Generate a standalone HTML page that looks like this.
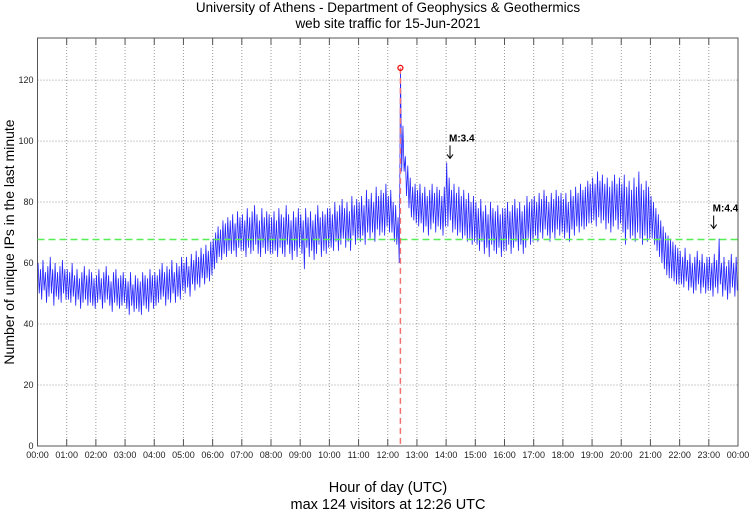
<!DOCTYPE html>
<html><head><meta charset="utf-8"><style>
body{margin:0;background:#fff;}
svg{display:block;font-family:"Liberation Sans",sans-serif;}
</style></head><body>
<svg id="c" width="750" height="511" viewBox="0 0 750 511">
<text x="388" y="12" text-anchor="middle" font-size="13.5">University of Athens - Department of Geophysics &amp; Geothermics</text>
<text x="388" y="28" text-anchor="middle" font-size="13.5">web site traffic for 15-Jun-2021</text>
<text transform="translate(14,242) rotate(-90)" text-anchor="middle" font-size="14">Number of unique IPs in the last minute</text>
<text x="388" y="492" text-anchor="middle" font-size="14.5">Hour of day (UTC)</text>
<text x="388" y="509" text-anchor="middle" font-size="14.5">max 124 visitors at 12:26 UTC</text>
<g id="grid"></g><g id="series"></g><g id="marks"></g>
</svg>
<script>
const yTicks=[0,20,40,60,80,100,120];
const xTickLabels=["00:00","01:00","02:00","03:00","04:00","05:00","06:00","07:00","08:00","09:00","10:00","11:00","12:00","13:00","14:00","15:00","16:00","17:00","18:00","19:00","20:00","21:00","22:00","23:00","00:00"];
const hiVals=[60,58,61,57,59,62,58,60,57,59,61,58,
58,57,60,56,58,55,57,59,56,58,57,55,
56,58,55,57,59,56,54,57,58,55,56,57,
55,54,57,53,56,55,54,57,56,55,58,56,
57,56,58,60,57,59,58,61,57,60,59,62,
60,62,59,63,61,64,62,65,63,66,64,67,
68,70,72,71,74,73,75,74,76,73,77,75,
76,74,78,75,77,79,76,74,78,75,77,76,
75,77,74,78,76,75,79,76,74,77,75,78,
76,74,78,75,77,74,76,79,75,77,76,78,
78,76,80,77,79,81,78,80,77,82,79,81,
80,82,79,84,81,83,80,85,82,84,83,86,
82,84,80,79,75,124,105,95,92,88,85,86,
84,86,83,85,82,84,86,83,85,84,82,85,
93,88,84,86,83,85,82,84,81,83,80,82,
80,78,81,77,79,76,80,78,77,79,76,78,
78,80,77,79,81,78,80,77,79,82,80,81,
82,80,83,81,84,82,80,83,81,84,82,83,
81,83,80,84,82,85,83,86,84,85,87,86,
88,86,90,87,89,86,88,85,87,89,86,88,
86,89,85,87,84,88,85,90,86,84,87,85,
82,80,78,76,74,72,70,69,68,67,66,65,
64,62,65,61,63,60,62,64,61,63,60,62,
62,60,63,61,68,60,62,59,61,63,60,62];
const loVals=[50,48,51,47,49,50,46,49,48,47,50,48,
48,47,49,46,48,45,47,48,46,47,46,45,
47,48,45,47,48,46,44,47,46,45,46,47,
45,43,46,44,45,44,43,46,45,44,47,45,
46,47,48,49,46,48,47,50,47,49,48,51,
50,52,49,53,51,53,52,55,53,55,54,56,
58,60,62,61,63,62,64,63,64,62,65,64,
64,62,65,63,64,66,63,62,65,63,64,63,
63,64,62,65,63,62,66,63,61,64,62,65,
63,58,65,62,64,61,63,66,62,64,63,65,
65,64,67,64,66,68,65,67,64,69,66,68,
67,69,66,70,68,70,67,71,69,70,69,72,
70,70,67,66,60,90,90,82,78,75,74,73,
72,73,70,72,69,71,73,70,72,71,69,72,
72,74,70,71,69,70,68,69,67,68,66,67,
66,64,67,63,65,62,66,64,63,65,62,64,
64,66,63,65,67,64,66,63,65,68,66,67,
69,67,70,68,71,69,67,70,68,71,69,70,
68,70,67,71,69,72,70,72,71,72,73,73,
74,72,75,73,74,71,73,70,72,74,71,73,
70,66,71,68,69,67,70,68,66,69,67,68,
68,66,64,62,60,58,56,55,55,54,53,53,
53,52,54,51,52,50,51,53,50,52,50,51,
51,49,52,50,53,49,51,48,50,52,49,51];
const meanVal=67.7;
const maxVal=124, maxMinute=746;
const quakes=[{label:"M:3.4",minute:848,val:93},{label:"M:4.4",minute:1390,val:70}];

const X0=37.5,X1=738,Y0=446,YT=38,YMAX=133.8;
const xs=m=>X0+(X1-X0)*m/1440;
const ys=v=>Y0-(Y0-YT)*v/YMAX;
const NS="http://www.w3.org/2000/svg";
function mk(tag,attrs,parent){const e=document.createElementNS(NS,tag);for(const k in attrs)e.setAttribute(k,attrs[k]);parent.appendChild(e);return e;}
const grid=document.getElementById('grid'),ser=document.getElementById('series'),marks=document.getElementById('marks');
yTicks.forEach(v=>{
  const y=ys(v);
  if(v>0){const l=mk('line',{x1:X0,x2:X1,y1:y,y2:y,stroke:'#999','stroke-dasharray':'1,2','stroke-width':1},grid);
  
  }
  const t=mk('text',{x:X0-4,y:y+3,'text-anchor':'end','font-size':9,fill:'#222'},grid);t.textContent=v;
  
  
});
xTickLabels.forEach((lab,i)=>{
  const x=xs(i*60);
  if(i>0&&i<24){const l=mk('line',{x1:x,x2:x,y1:YT,y2:Y0,stroke:'#999','stroke-dasharray':'1,2','stroke-width':1},grid);
  
  
  mk('line',{x1:x,x2:x,y1:Y0,y2:Y0-7,stroke:'#555'},grid);
  mk('line',{x1:x,x2:x,y1:YT,y2:YT+7,stroke:'#555'},grid);}
  const t=mk('text',{x:x,y:Y0+12,'text-anchor':'middle','font-size':9,fill:'#222'},grid);t.textContent=lab;
  
  
});
const fr=mk('rect',{x:X0,y:YT,width:X1-X0,height:Y0-YT,fill:'none',stroke:'#555','stroke-width':1},grid);


let pts=[];
hiVals.forEach((h,i)=>{pts.push(xs(i*5+1.2)+','+ys(h));pts.push(xs(i*5+3.6)+','+ys(loVals[i]));});
const pl=mk('polyline',{points:pts.join(' '),fill:'none',stroke:'#0000ff','stroke-width':0.8,'stroke-opacity':0.85},ser);


const ml=mk('line',{x1:X0,x2:X1,y1:ys(meanVal),y2:ys(meanVal),stroke:'#55ee55','stroke-dasharray':'7,4','stroke-width':1.5},marks);


const vl=mk('line',{x1:xs(maxMinute),x2:xs(maxMinute),y1:ys(maxVal),y2:Y0,stroke:'#f07070','stroke-dasharray':'6,4','stroke-width':1.5},marks);


const mc=mk('circle',{cx:xs(maxMinute),cy:ys(maxVal),r:2.5,fill:'none',stroke:'#e00','stroke-width':1.2},marks);


quakes.forEach(q=>{
  const x=xs(q.minute),y=ys(q.val)-4;
  const t=mk('text',{x:x-1,y:y-17,'font-size':10,'font-weight':'bold'},marks);t.textContent=q.label;
  
  
  mk('path',{d:`M${x},${y-13}V${y} M${x-3},${y-4}L${x},${y}L${x+3},${y-4}`,stroke:'#000',fill:'none','stroke-width':1},marks);
});
</script>
</body></html>
